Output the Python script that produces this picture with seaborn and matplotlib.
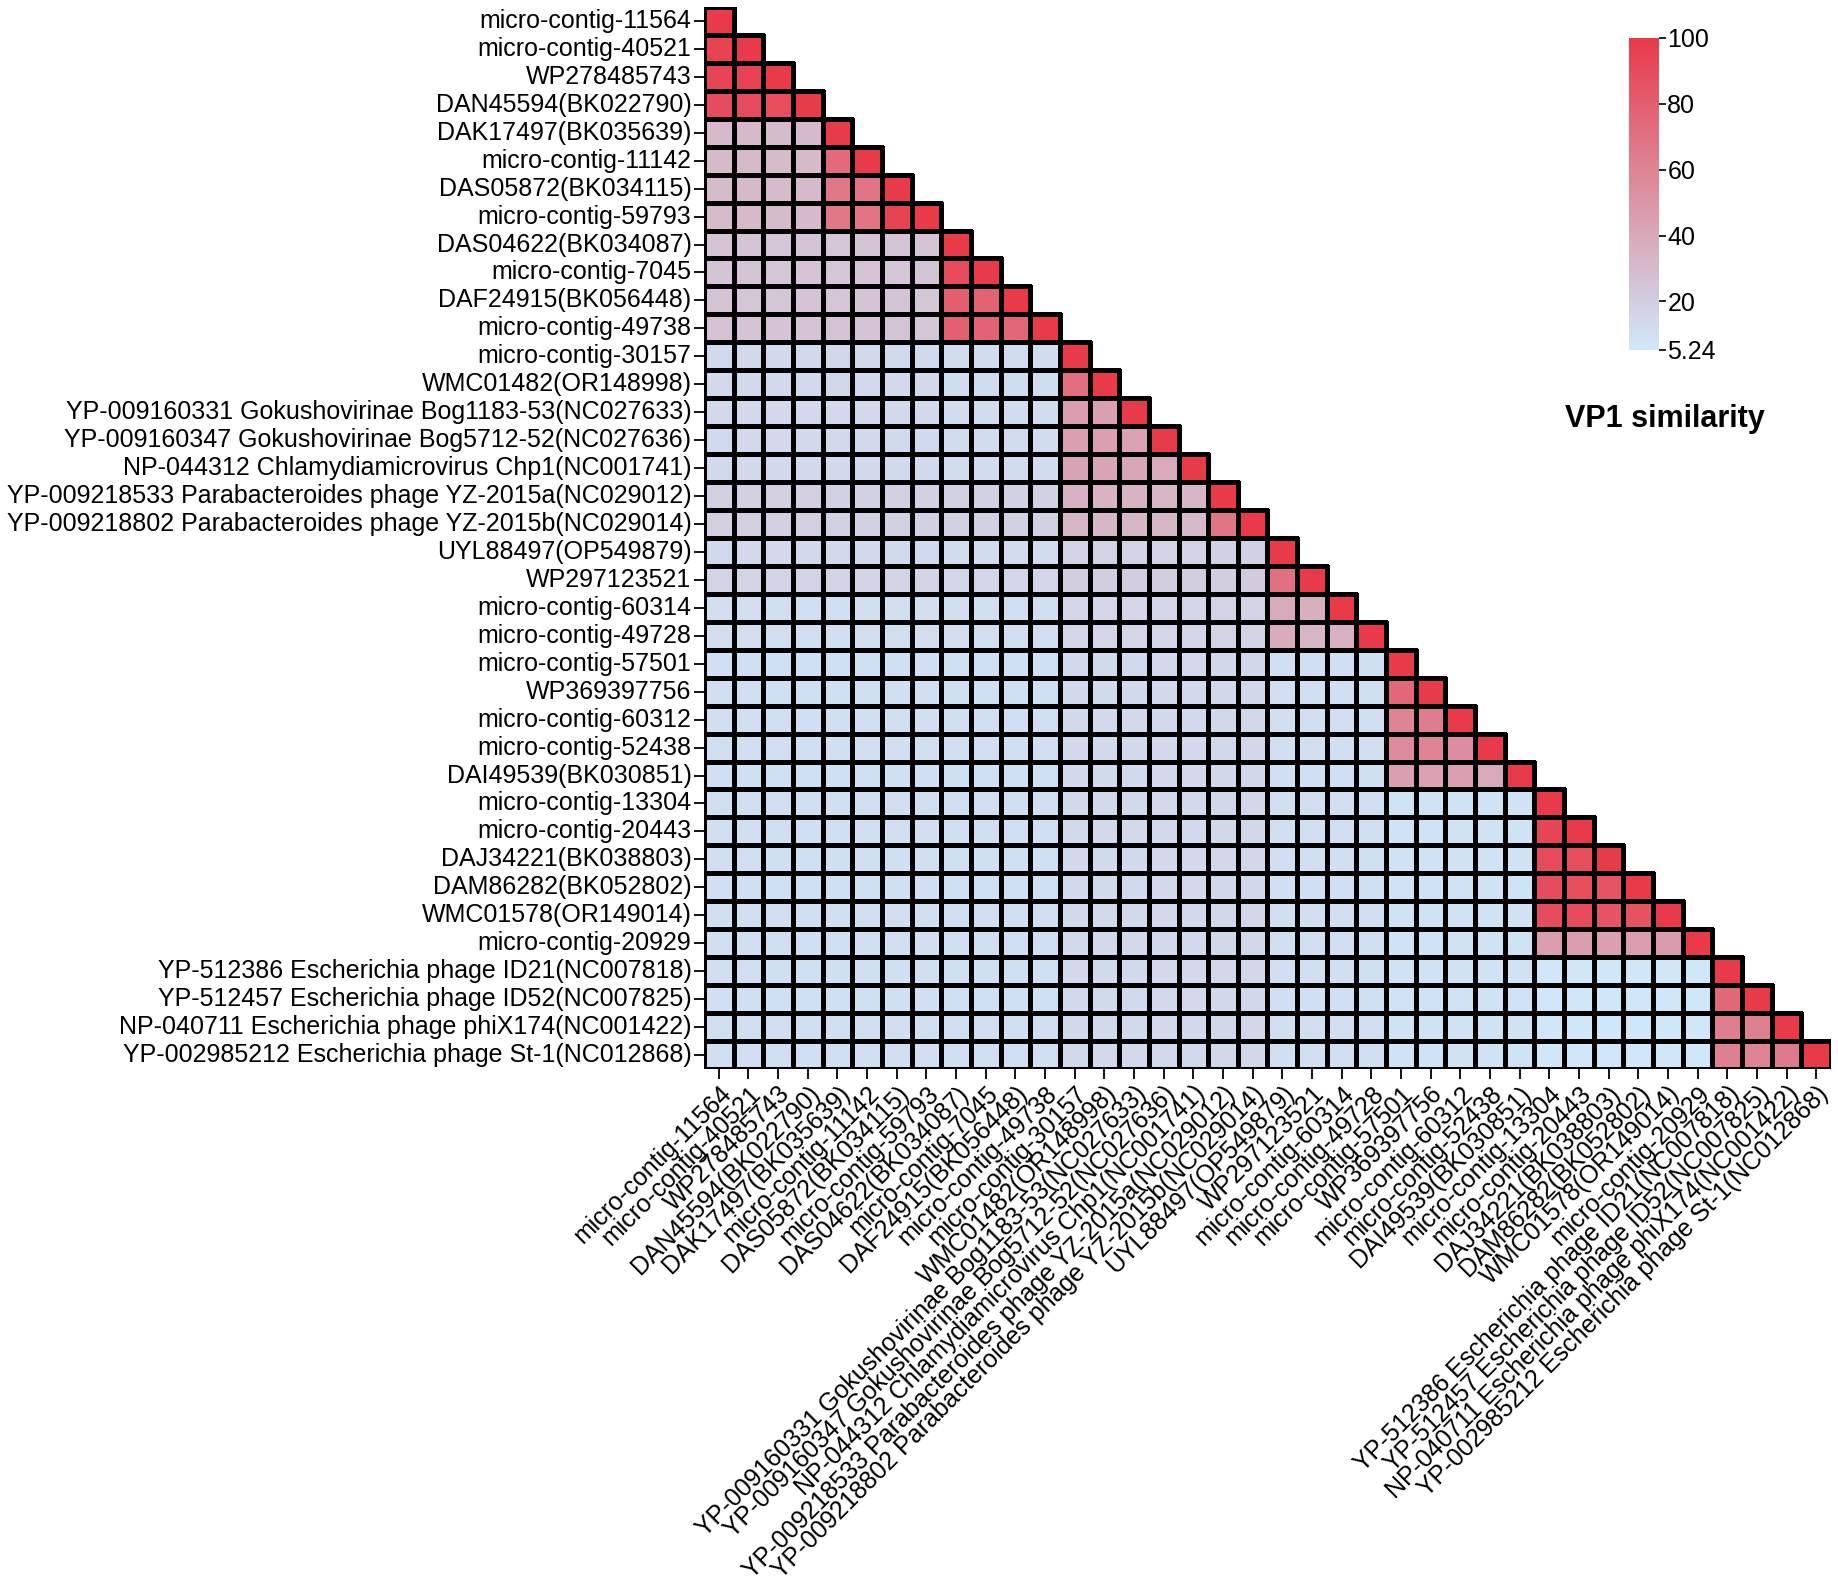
import numpy as np
import pandas as pd
import seaborn as sns
import matplotlib.pyplot as plt
from matplotlib.colors import LinearSegmentedColormap

plt.rcParams['font.family'] = ['Liberation Sans', 'DejaVu Sans']

labels = [
    "micro-contig-11564", "micro-contig-40521", "WP278485743", "DAN45594(BK022790)",
    "DAK17497(BK035639)", "micro-contig-11142", "DAS05872(BK034115)", "micro-contig-59793",
    "DAS04622(BK034087)", "micro-contig-7045", "DAF24915(BK056448)", "micro-contig-49738",
    "micro-contig-30157", "WMC01482(OR148998)",
    "YP-009160331 Gokushovirinae Bog1183-53(NC027633)",
    "YP-009160347 Gokushovirinae Bog5712-52(NC027636)",
    "NP-044312 Chlamydiamicrovirus Chp1(NC001741)",
    "YP-009218533 Parabacteroides phage YZ-2015a(NC029012)",
    "YP-009218802 Parabacteroides phage YZ-2015b(NC029014)",
    "UYL88497(OP549879)", "WP297123521", "micro-contig-60314", "micro-contig-49728",
    "micro-contig-57501", "WP369397756", "micro-contig-60312", "micro-contig-52438",
    "DAI49539(BK030851)", "micro-contig-13304", "micro-contig-20443", "DAJ34221(BK038803)",
    "DAM86282(BK052802)", "WMC01578(OR149014)", "micro-contig-20929",
    "YP-512386 Escherichia phage ID21(NC007818)",
    "YP-512457 Escherichia phage ID52(NC007825)",
    "NP-040711 Escherichia phage phiX174(NC001422)",
    "YP-002985212 Escherichia phage St-1(NC012868)",
]

# lower triangle of the VP1 similarity matrix (%), row by row
sim_rows = [
    [100],
    [95, 100],
    [94, 95, 100],
    [90, 91, 89, 100],
    [31, 31, 30, 31, 100],
    [31, 31, 30, 31, 74, 100],
    [30, 31, 30, 31, 66, 68, 100],
    [30, 31, 30, 31, 66, 69, 95, 100],
    [25, 25, 24, 25, 24, 25, 25, 25, 100],
    [25, 25, 24, 25, 24, 25, 24, 25, 91, 100],
    [25, 24, 24, 25, 24, 25, 25, 24, 80, 78, 100],
    [26, 25, 25, 25, 25, 25, 25, 24, 79, 78, 76, 100],
    [13, 13, 13, 13, 14, 13, 13, 13, 12, 12, 12, 12, 100],
    [13, 13, 13, 13, 14, 13, 13, 13, 12, 12, 12, 12, 71, 100],
    [13, 13, 13, 13, 13, 13, 13, 13, 12, 12, 12, 12, 46, 45, 100],
    [13, 13, 13, 13, 13, 13, 13, 13, 12, 12, 12, 12, 45, 45, 44, 100],
    [13, 13, 13, 13, 13, 13, 13, 13, 12, 12, 12, 12, 43, 42, 41, 40, 100],
    [19, 19, 19, 19, 18, 18, 18, 18, 18, 18, 18, 18, 35, 34, 34, 33, 33, 100],
    [19, 19, 19, 19, 18, 18, 18, 18, 18, 18, 18, 18, 33, 32, 32, 32, 31, 68, 100],
    [13, 13, 13, 13, 13, 13, 13, 13, 12, 12, 12, 12, 17, 17, 17, 17, 17, 18, 18, 100],
    [17, 17, 17, 17, 16, 16, 16, 16, 15, 15, 15, 15, 20, 20, 20, 20, 20, 20, 21, 70, 100],
    [11, 11, 11, 11, 11, 11, 11, 11, 11, 11, 11, 11, 15, 15, 15, 15, 15, 16, 16, 40, 36, 100],
    [11, 11, 11, 11, 11, 11, 11, 11, 11, 11, 11, 11, 15, 15, 15, 15, 15, 16, 16, 38, 33, 35, 100],
    [10, 10, 10, 10, 10, 10, 10, 10, 10, 10, 10, 10, 13, 13, 13, 13, 13, 14, 14, 10, 10, 10, 10, 100],
    [10, 10, 10, 10, 10, 10, 10, 10, 10, 10, 10, 10, 13, 13, 13, 13, 13, 14, 14, 10, 10, 10, 10, 75, 100],
    [10, 10, 10, 10, 10, 10, 10, 10, 10, 10, 10, 10, 13, 13, 13, 13, 13, 14, 14, 10, 10, 10, 10, 60, 64, 100],
    [10, 10, 10, 10, 10, 10, 10, 10, 10, 10, 10, 10, 13, 13, 13, 13, 13, 14, 14, 10, 10, 10, 10, 56, 60, 55, 100],
    [10, 10, 10, 10, 10, 10, 10, 10, 10, 10, 10, 10, 13, 13, 13, 13, 13, 14, 14, 10, 10, 10, 10, 45, 44, 45, 40, 100],
    [10, 10, 10, 10, 10, 10, 10, 10, 10, 10, 10, 10, 13, 13, 13, 13, 13, 14, 14, 10, 10, 10, 10, 8, 8, 8, 8, 8, 100],
    [10, 10, 10, 10, 10, 10, 10, 10, 10, 10, 10, 10, 13, 13, 13, 13, 13, 14, 14, 10, 10, 10, 10, 8, 8, 8, 8, 8, 94, 100],
    [10, 10, 10, 10, 10, 10, 10, 10, 10, 10, 10, 10, 13, 13, 13, 13, 13, 14, 14, 10, 10, 10, 10, 8, 8, 8, 8, 8, 91, 89, 100],
    [10, 10, 10, 10, 10, 10, 10, 10, 10, 10, 10, 10, 13, 13, 13, 13, 13, 14, 14, 10, 10, 10, 10, 8, 8, 8, 8, 8, 90, 89, 86, 100],
    [10, 10, 10, 10, 10, 10, 10, 10, 10, 10, 10, 10, 13, 13, 13, 13, 13, 14, 14, 10, 10, 10, 10, 8, 8, 8, 8, 8, 90, 90, 86, 87, 100],
    [10, 10, 10, 10, 10, 10, 10, 10, 10, 10, 10, 10, 13, 13, 13, 13, 13, 14, 14, 10, 10, 10, 10, 8, 8, 8, 8, 8, 46, 46, 45, 46, 47, 100],
    [10, 10, 10, 10, 10, 10, 10, 10, 10, 10, 10, 10, 13, 13, 13, 13, 13, 14, 14, 10, 10, 10, 10, 8, 8, 8, 8, 8, 6, 6, 6, 6, 6, 6, 100],
    [10, 10, 10, 10, 10, 10, 10, 10, 10, 10, 10, 10, 13, 13, 13, 13, 13, 14, 14, 10, 10, 10, 10, 8, 8, 8, 8, 8, 6, 6, 6, 6, 6, 6, 75, 100],
    [10, 10, 10, 10, 10, 10, 10, 10, 10, 10, 10, 10, 13, 13, 13, 13, 13, 14, 14, 10, 10, 10, 10, 8, 8, 8, 8, 8, 6, 6, 6, 6, 6, 6, 63, 62, 100],
    [10, 10, 10, 10, 10, 10, 10, 10, 10, 10, 10, 10, 13, 13, 13, 13, 13, 14, 14, 10, 10, 10, 10, 8, 8, 8, 8, 8, 6, 6, 6, 6, 6, 6, 62, 60, 65, 100],
]

cbar_ticks = [5.24, 20, 40, 60, 80, 100]
cbar_ticklabels = ["5.24", "20", "40", "60", "80", "100"]

# --- build square matrix (upper part left empty) ---
n = len(labels)
mat = np.full((n, n), np.nan)
for i, row in enumerate(sim_rows):
    mat[i, :len(row)] = row
sim_df = pd.DataFrame(mat, index=labels, columns=labels)
mask = np.triu(np.ones((n, n), dtype=bool), k=1)

cmap = LinearSegmentedColormap.from_list("vp1", ["#cfe8fa", "#e93a4a"])

fig = plt.figure(figsize=(18.38, 15.82), dpi=100)
ax = fig.add_axes([0.383, 0.3243, 0.6132, 0.6713])
cax = fig.add_axes([0.8863, 0.7788, 0.0163, 0.1972])

sns.heatmap(sim_df, mask=mask, cmap=cmap, vmin=5.24, vmax=100,
            linewidths=2.4, linecolor="black", ax=ax, cbar_ax=cax)

# 上三角のセルは枠線も消す
mesh = ax.collections[0]
ec = np.zeros((n * n, 4))
ec[~mask.ravel()] = [0, 0, 0, 1]
mesh.set_edgecolor(ec)

ax.set_xticks(np.arange(n) + 0.5)
ax.set_yticks(np.arange(n) + 0.5)
ax.set_xticklabels(labels, rotation=45, ha="right", rotation_mode="anchor", fontsize=18)
ax.set_yticklabels(labels, rotation=0, fontsize=18)
ax.tick_params(axis="both", length=7, width=1.3, color="black", pad=2)
ax.set_xlabel("")
ax.set_ylabel("")

cbar = mesh.colorbar
cbar.set_ticks(cbar_ticks)
cbar.set_ticklabels(cbar_ticklabels)
cbar.ax.tick_params(labelsize=18, length=5, width=1.2, pad=1)
cbar.outline.set_visible(False)

fig.text(0.906, 0.735, "VP1 similarity", fontsize=22, fontweight="bold",
         ha="center", va="center")

fig.savefig("out.png", dpi=100)
plt.close(fig)
